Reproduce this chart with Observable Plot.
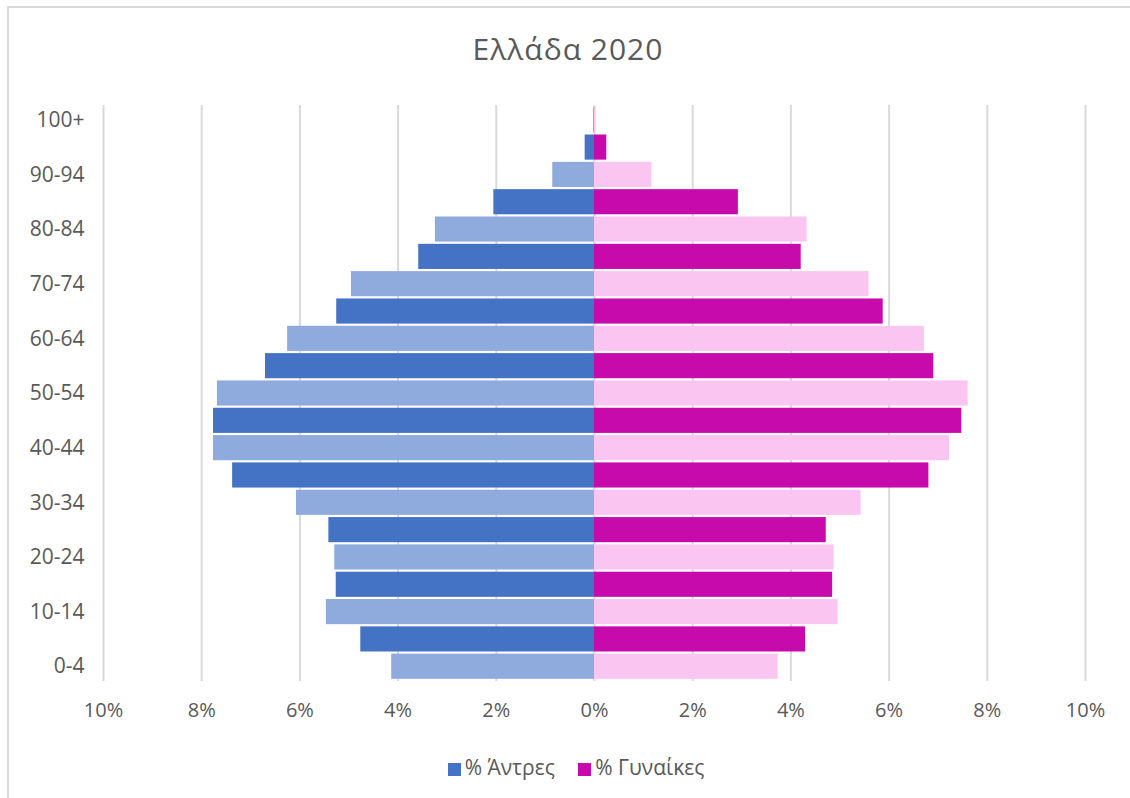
<!DOCTYPE html>
<html>
<head>
<meta charset="utf-8">
<script src="https://cdn.jsdelivr.net/npm/d3@7"></script>
<script src="https://cdn.jsdelivr.net/npm/@observablehq/plot@0.6"></script>
<style>
  html, body { margin: 0; padding: 0; background: #fff; }
  #frame { position: absolute; left: 7px; top: 6px; width: 1123px; height: 792px;
           border-left: 2px solid #d9d9d9; border-top: 2px solid #d9d9d9; box-sizing: border-box; }
  #wrap { position: absolute; left: 0; top: 0; width: 1130px; height: 798px;
          font-family: "Open Sans", sans-serif; color: #595959; }
  #title { position: absolute; left: 0; width: 1136px; top: 29px; text-align: center;
           font-size: 30px; letter-spacing: 1px; line-height: 40px; color: #595959; }
  #chart { position: absolute; left: 0; top: 90px; }
  #chart svg { display: block; }
  #legend { position: absolute; left: 0; width: 1152px; top: 753px; text-align: center;
            font-size: 21px; line-height: 28px; color: #595959; }
  .sw { display: inline-block; width: 13px; height: 13px; margin-right: 4px; vertical-align: -1px; }
  .item { margin: 0 9px; }
</style>
</head>
<body>
<div id="frame"></div>
<div id="wrap">
  <div id="title">Ελλάδα 2020</div>
  <div id="chart"></div>
  <div id="legend">
    <span class="item"><span class="sw" style="background:#4472C4"></span>% Άντρες</span>
    <span class="item"><span class="sw" style="background:#C70AAC"></span>% Γυναίκες</span>
  </div>
</div>
<script>
const ages = ["0-4","5-9","10-14","15-19","20-24","25-29","30-34","35-39","40-44","45-49",
              "50-54","55-59","60-64","65-69","70-74","75-79","80-84","85-89","90-94","95-99","100+"];
const men =   [4.13, 4.76, 5.46, 5.26, 5.29, 5.41, 6.07, 7.37, 7.76, 7.76,
               7.68, 6.70, 6.25, 5.25, 4.95, 3.58, 3.24, 2.05, 0.85, 0.19, 0.02];
const women = [3.74, 4.30, 4.96, 4.85, 4.88, 4.72, 5.43, 6.81, 7.23, 7.48,
               7.61, 6.91, 6.72, 5.88, 5.59, 4.21, 4.33, 2.93, 1.17, 0.25, 0.03];
const xTicks = [-10, -8, -6, -4, -2, 0, 2, 4, 6, 8, 10];
const shownAges = ["0-4","10-14","20-24","30-34","40-44","50-54","60-64","70-74","80-84","90-94","100+"];
const menColors = ["#8FAADC", "#4472C4"];
const womenColors = ["#FBC5F2", "#C70AAC"];

const rows = [];
ages.forEach((a, i) => {
  rows.push({age: a, sex: "m", v: -men[i], fill: menColors[i % 2]});
  rows.push({age: a, sex: "f", v: women[i], fill: womenColors[i % 2]});
});

const plot = Plot.plot({
  width: 1130,
  height: 640,
  marginLeft: 103,
  marginRight: 45,
  marginTop: 15,
  marginBottom: 49,
  style: {fontFamily: "'Open Sans', sans-serif", fontSize: "20px", color: "#595959", background: "transparent"},
  x: {domain: [-10, 10], label: null},
  y: {domain: ages.slice().reverse(), padding: 0.08, round: false, label: null},
  marks: [
    Plot.ruleX(xTicks, {stroke: "#d9d9d9", strokeWidth: 2}),
    Plot.barX(rows, {x: "v", y: "age", fill: "fill"}),
    Plot.axisX({ticks: xTicks, tickFormat: d => Math.abs(d) + "%", tickSize: 0, tickPadding: 21, fontSize: 20, label: null}),
    Plot.axisY({ticks: shownAges, tickSize: 0, tickPadding: 19, fontSize: 21, label: null})
  ]
});
document.getElementById("chart").appendChild(plot);
</script>
</body>
</html>
